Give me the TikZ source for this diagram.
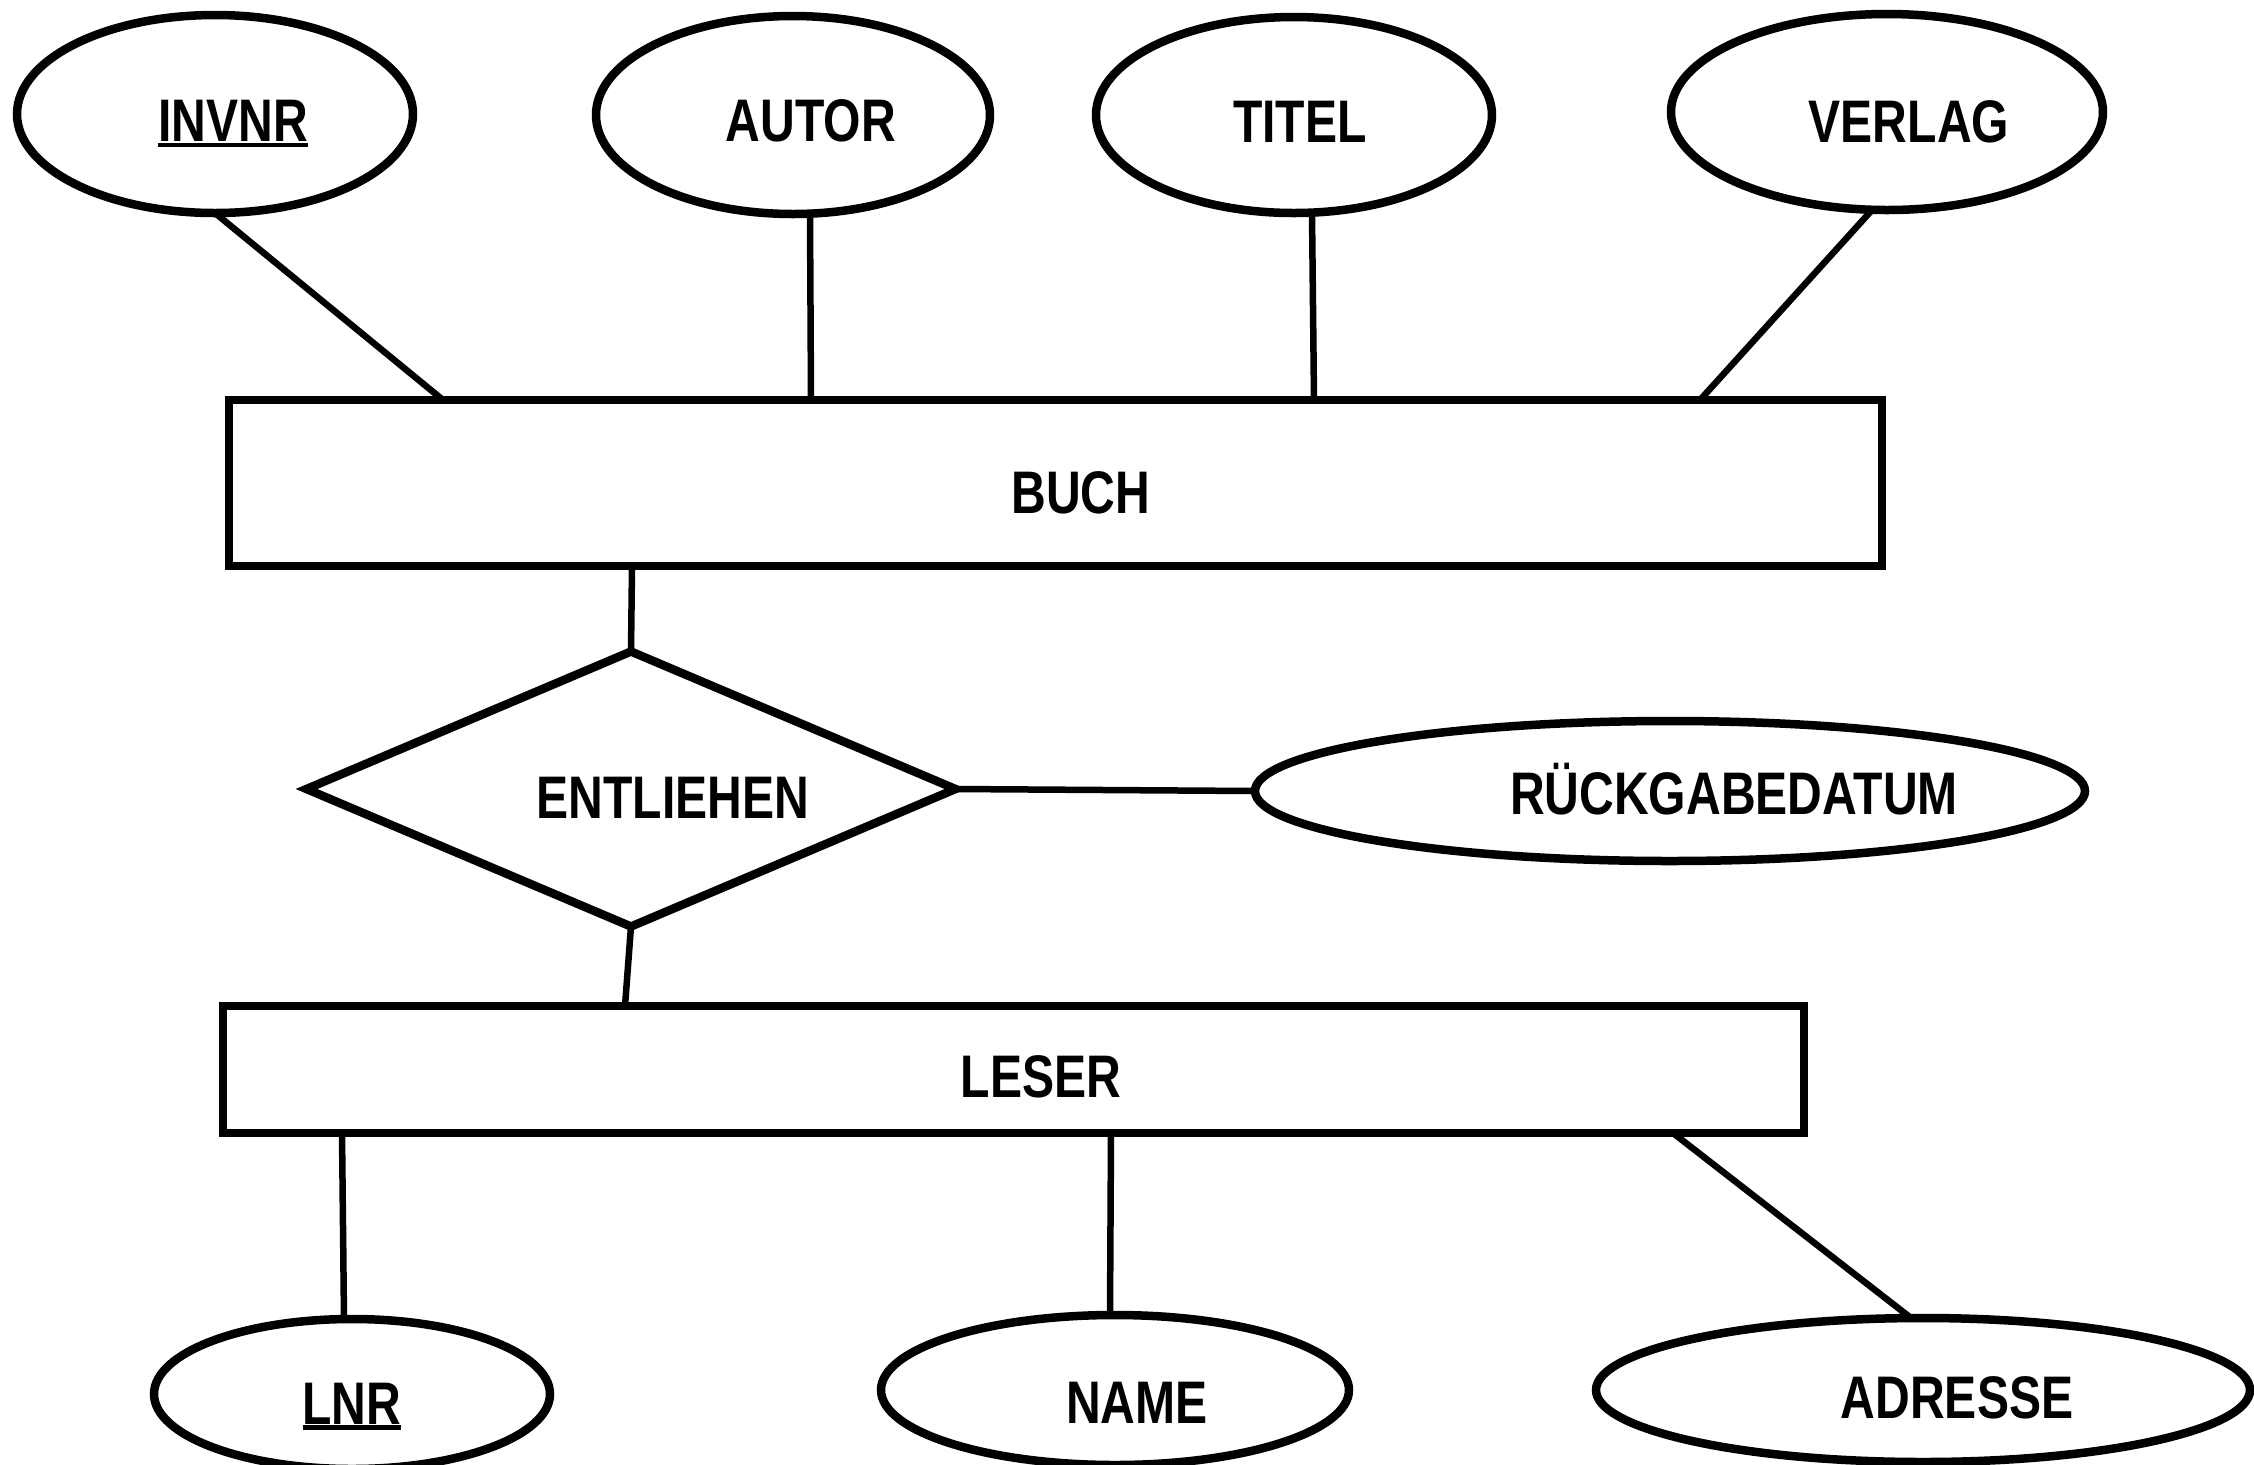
\documentclass[tikz,border=0pt]{standalone}
\usepackage{fontspec}
\setmainfont{Liberation Sans}[FakeStretch=0.8]
\usetikzlibrary{shapes.geometric,calc}
\newcommand\keyul[1]{\setbox0\hbox{#1}\rlap{\raisebox{-1.56pt}{\rule{\wd0}{1.14pt}}}\box0}
\begin{document}
\begin{tikzpicture}[x=0.1mm,y=-0.1mm,
  bord/.style={draw,line width=0.85mm,inner sep=0,outer sep=0},
  attr/.style={bord,ellipse},
  entity/.style={bord,rectangle},
  rel/.style={bord,diamond},
  lbl/.style={inner sep=0,anchor=base,font=\fontsize{17.1pt}{20pt}\selectfont\bfseries},
  conn/.style={line width=0.65mm}]
\useasboundingbox (0,0) rectangle (2254,1464);
% shapes
\node[attr,minimum width=39.6mm,minimum height=19.8mm] (invnr) at (215,114) {};
\node[attr,minimum width=39.4mm,minimum height=19.8mm] (autor) at (793,115) {};
\node[attr,minimum width=39.6mm,minimum height=19.6mm] (titel) at (1294,115) {};
\node[attr,minimum width=43.2mm,minimum height=19.6mm] (verlag) at (1887,112) {};
\node[entity,minimum width=165.3mm,minimum height=16.6mm] (buch) at (1055.5,483) {};
\node[rel,minimum width=64.9mm,minimum height=27.5mm] (ent) at (631,789) {};
\node[attr,minimum width=83mm,minimum height=14mm] (rueck) at (1670,791) {};
\node[entity,minimum width=158.1mm,minimum height=12.7mm] (leser) at (1013.5,1069.5) {};
\node[attr,minimum width=39.6mm,minimum height=15mm] (lnr) at (352,1394) {};
\node[attr,minimum width=46.8mm,minimum height=15mm] (name) at (1115,1390) {};
\node[attr,minimum width=65.4mm,minimum height=14.4mm] (adresse) at (1923,1390) {};
% labels
\node[lbl] (tinvnr) at (233,141.5) {\keyul{INVNR}};
\node[lbl] (tautor) at (811,141.5) {AUTOR};
\node[lbl] (ttitel) at (1300,142) {TITEL};
\node[lbl] (tverlag) at (1909,142) {VERLAG};
\node[lbl] (tbuch) at (1081,513) {BUCH};
\node[lbl] (tent) at (673,818) {ENTLIEHEN};
\node[lbl] (trueck) at (1734,814) {RÜCKGABEDATUM};
\node[lbl] (tleser) at (1041,1097) {LESER};
\node[lbl] (tlnr) at (352,1424) {\keyul{LNR}};
\node[lbl] (tname) at (1137,1423) {NAME};
\node[lbl] (tadresse) at (1957,1418) {ADRESSE};
% connectors
\draw[conn] (invnr.south) -- ($(buch.north west)+(214,0)$);
\draw[conn] ($(autor.south)+(17,0)$) -- ($(buch.north west)+(582,0)$);
\draw[conn] ($(titel.south)+(18,0)$) -- ($(buch.north west)+(1085,0)$);
\draw[conn] ($(verlag.south)+(-15,0)$) -- ($(buch.north west)+(1471,0)$);
\draw[conn] ($(buch.south west)+(403,0)$) -- (ent.north);
\draw[conn] (ent.east) -- (rueck.west);
\draw[conn] (ent.south) -- ($(leser.north west)+(402,0)$);
\draw[conn] ($(leser.south west)+(119,0)$) -- ($(lnr.north)+(-8,0)$);
\draw[conn] ($(leser.south west)+(888,0)$) -- ($(name.north)+(-5,0)$);
\draw[conn] ($(leser.south west)+(1450,0)$) -- ($(adresse.north)+(-12,0)$);
\end{tikzpicture}
\end{document}
